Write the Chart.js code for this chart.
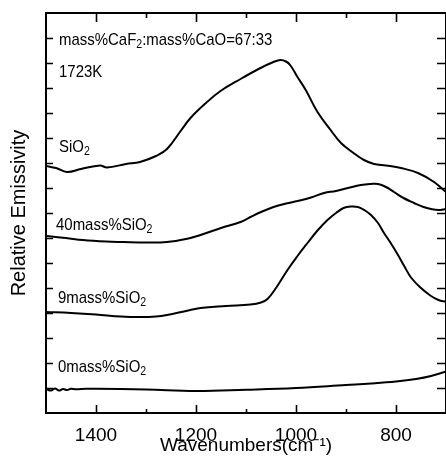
<!DOCTYPE html>
<html>
<head>
<meta charset="utf-8">
<script src="https://cdn.jsdelivr.net/npm/chart.js@4/dist/chart.umd.min.js"></script>
<style>
  html, body { margin: 0; padding: 0; background: #fff; }
  #c { display: block; }
</style>
</head>
<body>
<canvas id="c" width="446" height="461"></canvas>
<script>
// ---- Data ----
const X_TICKS = [1400, 1200, 1000, 800];
const X_MINOR = [1300, 1100, 900];

const WN_SIO2 = [1500, 1480, 1458, 1430, 1392, 1378, 1340, 1312, 1280, 1258, 1230, 1211, 1180, 1151, 1111, 1071, 1045, 1031, 1020, 1011, 997, 980, 957, 930, 910, 885, 864, 844, 820, 790, 756, 724, 700];
const EM_SIO2 = [9.88, 9.8, 9.64, 9.76, 9.9, 9.82, 9.96, 10.04, 10.28, 10.56, 11.3, 11.8, 12.4, 12.88, 13.36, 13.8, 14.04, 14.12, 14.06, 13.9, 13.44, 12.9, 12.04, 11.3, 10.8, 10.4, 10.12, 9.96, 9.9, 9.8, 9.6, 9.24, 8.84];

const WN_40 = [1500, 1460, 1426, 1380, 1346, 1300, 1258, 1220, 1191, 1150, 1111, 1091, 1070, 1045, 1020, 997, 970, 944, 920, 896, 870, 850, 836, 820, 804, 785, 764, 745, 730, 715, 700];
const EM_40 = [7.08, 7.0, 6.92, 6.86, 6.84, 6.82, 6.84, 6.96, 7.12, 7.4, 7.64, 7.84, 8.04, 8.24, 8.38, 8.48, 8.62, 8.8, 8.88, 9.0, 9.12, 9.16, 9.16, 9.04, 8.84, 8.6, 8.4, 8.24, 8.16, 8.12, 8.16];

const WN_9 = [1500, 1450, 1400, 1350, 1312, 1280, 1258, 1220, 1191, 1140, 1091, 1070, 1057, 1040, 1017, 997, 977, 957, 937, 920, 905, 890, 876, 862, 850, 836, 824, 810, 796, 783, 770, 750, 730, 715, 700];
const EM_9 = [4.04, 4.0, 3.94, 3.86, 3.84, 3.86, 3.92, 4.08, 4.2, 4.28, 4.34, 4.42, 4.56, 5.0, 5.72, 6.28, 6.8, 7.3, 7.72, 8.0, 8.2, 8.26, 8.24, 8.1, 7.92, 7.6, 7.2, 6.78, 6.32, 5.86, 5.42, 5.0, 4.68, 4.52, 4.44];

const WN_0 = [1500, 1490, 1482, 1474, 1466, 1458, 1450, 1440, 1420, 1400, 1300, 1200, 1100, 1000, 900, 850, 800, 760, 730, 700];
const EM_0 = [0.96, 0.9, 0.98, 0.9, 0.96, 0.92, 0.97, 0.95, 0.97, 0.97, 0.94, 0.88, 0.93, 1.0, 1.12, 1.18, 1.26, 1.36, 1.48, 1.66];

// In-plot labels ("_2" = subscript 2) and their anchor points (wavenumber, emissivity at baseline)
const LABEL_TEXTS = ["mass%CaF_2:mass%CaO=67:33", "1723K", "SiO_2", "40mass%SiO_2", "9mass%SiO_2", "0mass%SiO_2"];
const LABEL_WN = [1474, 1474, 1474, 1480, 1476, 1476];
const LABEL_EM = [14.72, 13.44, 10.44, 7.32, 4.42, 1.64];

const X_TITLE = "Wavenumbers(cm\u207B\u00B9)";
const Y_TITLE = "Relative Emissivity";

// ---- Chart ----
const FONT = '"Liberation Sans", Arial, Helvetica, sans-serif';
const zip = (xs, ys) => xs.map((x, i) => ({ x: x, y: ys[i] }));
const mk = (xs, ys) => ({
  data: zip(xs, ys),
  borderColor: '#000',
  borderWidth: 2,
  pointRadius: 0,
  fill: false,
  tension: 0.4
});

function drawRich(ctx, str, x, y, size, sx) {
  const parts = str.split(/(_\d)/);
  ctx.save();
  ctx.translate(x, y);
  ctx.scale(sx, 1);
  let cx = 0;
  ctx.textBaseline = 'alphabetic';
  ctx.textAlign = 'left';
  for (const p of parts) {
    if (!p) continue;
    if (p[0] === '_') {
      const t = p.slice(1);
      ctx.font = Math.round(size * 0.68) + 'px ' + FONT;
      ctx.fillText(t, cx, 3);
      cx += ctx.measureText(t).width;
    } else {
      ctx.font = size + 'px ' + FONT;
      ctx.fillText(p, cx, 0);
      cx += ctx.measureText(p).width;
    }
  }
  ctx.restore();
}

const framePlugin = {
  id: 'frameAndTicks',
  afterDatasetsDraw(chart) {
    const { ctx, chartArea: a, scales } = chart;
    const x = scales.x, y = scales.y;
    ctx.save();
    ctx.strokeStyle = '#000';
    ctx.lineWidth = 2;
    ctx.strokeRect(a.left, a.top, a.right - a.left, a.bottom - a.top);
    ctx.lineWidth = 1.6;
    ctx.beginPath();
    for (const v of X_TICKS) {
      const px = Math.round(x.getPixelForValue(v)) + 0.5;
      ctx.moveTo(px, a.bottom); ctx.lineTo(px, a.bottom - 8);
      ctx.moveTo(px, a.top); ctx.lineTo(px, a.top + 9);
    }
    for (const v of X_MINOR) {
      const px = Math.round(x.getPixelForValue(v)) + 0.5;
      ctx.moveTo(px, a.bottom); ctx.lineTo(px, a.bottom - 4);
      ctx.moveTo(px, a.top); ctx.lineTo(px, a.top + 5);
    }
    for (let v = y.min + 1; v < y.max; v++) {
      const py = Math.round(y.getPixelForValue(v)) + 0.5;
      ctx.moveTo(a.left, py); ctx.lineTo(a.left + 7, py);
      ctx.moveTo(a.right, py); ctx.lineTo(a.right - 9, py);
    }
    ctx.stroke();
    ctx.fillStyle = '#000';
    LABEL_TEXTS.forEach((t, i) => {
      drawRich(ctx, t, x.getPixelForValue(LABEL_WN[i]), y.getPixelForValue(LABEL_EM[i]), 17, 0.88);
    });
    ctx.restore();
  }
};

new Chart(document.getElementById('c'), {
  type: 'line',
  data: {
    datasets: [mk(WN_SIO2, EM_SIO2), mk(WN_40, EM_40), mk(WN_9, EM_9), mk(WN_0, EM_0)]
  },
  options: {
    responsive: false,
    devicePixelRatio: 1,
    animation: false,
    layout: { padding: { top: 13, right: 0, left: 0, bottom: 0 } },
    plugins: { legend: { display: false }, tooltip: { enabled: false } },
    scales: {
      x: {
        type: 'linear',
        reverse: true,
        min: 700,
        max: 1500,
        afterBuildTicks: (s) => { s.ticks = X_TICKS.map(v => ({ value: v })); },
        afterFit: (s) => { s.height = 48; },
        grid: { display: false, drawTicks: false },
        border: { display: false },
        ticks: { color: '#000', padding: 11, maxRotation: 0, autoSkip: false, callback: (v) => String(v), font: { family: FONT, size: 19 } },
        title: { display: true, text: X_TITLE, color: '#000', padding: { top: 0, bottom: 6 }, font: { family: FONT, size: 19, lineHeight: 1 } }
      },
      y: {
        type: 'linear',
        min: 0,
        max: 16,
        afterFit: (s) => { s.width = 46; },
        grid: { display: false, drawTicks: false },
        border: { display: false },
        ticks: { display: false },
        title: { display: true, text: Y_TITLE, color: '#000', padding: { top: 9, bottom: 0 }, font: { family: FONT, size: 20, lineHeight: 1 } }
      }
    }
  },
  plugins: [framePlugin]
});
</script>
</body>
</html>
